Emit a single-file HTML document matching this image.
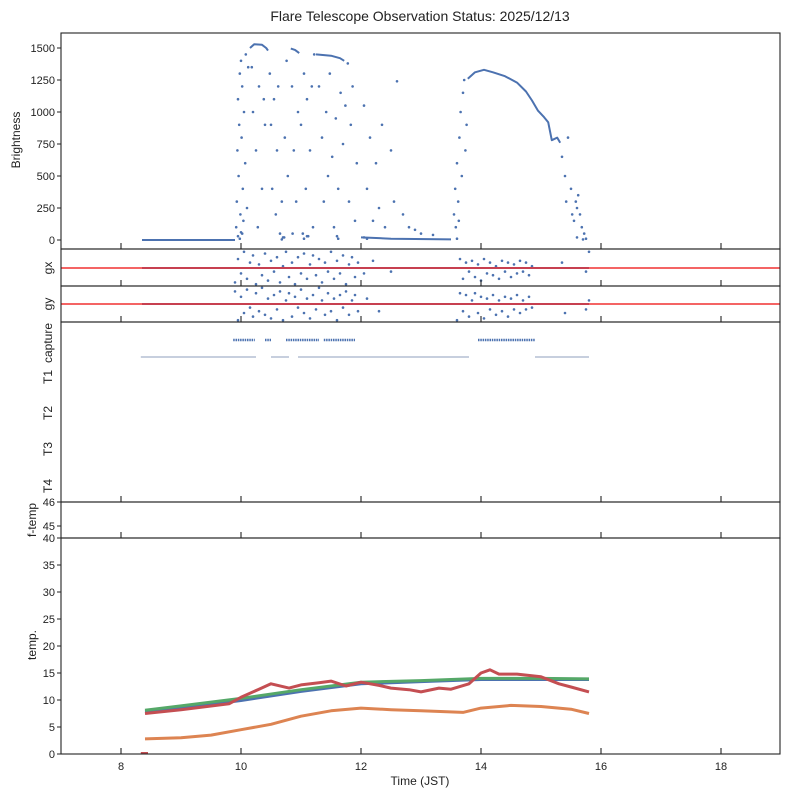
<!DOCTYPE html>
<html><head><meta charset="utf-8"><style>
html,body{margin:0;padding:0;background:#fff}
svg{display:block;font-family:"Liberation Sans","DejaVu Sans",sans-serif}
</style></head><body>
<svg id="c" width="789" height="798" viewBox="0 0 789 798">
<text x="420" y="21" font-size="14" text-anchor="middle" fill="#222">Flare Telescope Observation Status: 2025/12/13</text>
<g id="g"></g>
</svg>
<script>
// ---- data ----
const xTicks=[8,10,12,14,16,18];
const brightTicks=[0,250,500,750,1000,1250,1500];
const brightRuns=[
 [[8.35,0],[9.9,0]],
 [[10.15,1500],[10.22,1530],[10.35,1525],[10.42,1500],[10.45,1480]],
 [[10.83,1495],[10.9,1485],[10.97,1460]],
 [[11.25,1450],[11.5,1440],[11.65,1420],[11.72,1400]],
 [[12.0,20],[12.5,10],[13.5,5]],
 [[13.78,1260],[13.9,1310],[14.05,1330],[14.2,1310],[14.4,1280],[14.6,1230],[14.75,1160],[14.85,1090],[14.95,1010],[15.05,960],[15.12,920],[15.18,780],[15.27,800],[15.32,760]]
];
const brightPts=[[9.92,100],[9.93,300],[9.94,700],[9.95,1100],[9.96,500],[9.97,900],[9.98,1300],[9.99,200],[10.0,1400],[10.01,800],[10.02,1200],[10.03,400],[10.05,1000],[10.07,600],[10.08,1450],[10.1,250],[10.12,1350],[10.02,50],[10.04,150],
[10.48,1300],[10.5,900],[10.52,400],[10.55,1100],[10.58,200],[10.6,700],[10.62,1200],[10.65,50],[10.68,300],[10.7,20],[10.73,800],[10.76,1400],[10.78,500],
[11.0,900],[11.03,50],[11.05,1300],[11.08,400],[11.1,1100],[11.12,30],[11.15,700],[11.18,1200],[11.2,100],[11.22,1450],
[11.3,1200],[11.35,800],[11.38,300],[11.42,1000],[11.45,500],[11.48,1300],[11.52,650],[11.55,100],[11.58,950],[11.6,30],[11.62,400],[11.66,1150],[11.7,750],[11.74,1050],[11.78,1380],[11.8,300],[11.83,900],[11.86,1200],[11.9,150],[11.93,600],
[12.05,1050],[12.1,400],[12.15,800],[12.2,150],[12.25,600],[12.3,250],[12.35,900],[12.4,100],[12.5,700],[12.55,300],[12.6,1240],[12.7,200],[12.8,100],[12.9,80],[13.0,50],[13.2,40],
[13.55,200],[13.57,400],[13.6,600],[13.62,300],[13.64,800],[13.66,1000],[13.68,500],[13.7,1150],[13.72,1250],[13.74,700],[13.76,900],[13.58,100],[13.63,150],
[15.35,650],[15.4,500],[15.42,300],[15.45,800],[15.5,400],[15.52,200],[15.55,150],[15.58,300],[15.6,250],[15.65,200],[15.68,100],[15.72,50],[15.75,10],[15.62,350],
[10.2,1000],[10.25,700],[10.3,1200],[10.35,400],[10.4,900],[10.18,1350],[10.28,100],[10.38,1100],
[10.85,1200],[10.88,700],[10.92,300],[10.95,1000],[10.86,50],
[9.95,30],[9.98,10],[10.0,60],[10.68,5],[10.72,20],[11.05,10],[11.1,30],[11.62,10],[12.05,20],[12.1,10],[13.6,10],[15.6,20],[15.7,5]];
const gxRun=[[8.35,0],[15.8,0]];
const gxPts=[[9.9,-0.8],[9.95,0.5],[10.0,-0.3],[10.05,0.9],[10.1,-0.6],[10.15,0.3],[10.2,0.7],[10.25,-0.9],[10.3,0.2],[10.35,-0.4],[10.4,0.8],[10.45,-0.7],[10.5,0.4],[10.55,-0.2],[10.6,0.6],[10.65,-0.8],[10.7,0.1],[10.75,0.9],[10.8,-0.5],[10.85,0.3],[10.9,-0.9],[10.95,0.6],[11.0,-0.3],[11.05,0.8],[11.1,-0.6],[11.15,0.2],[11.2,0.7],[11.25,-0.4],[11.3,0.5],[11.35,-0.8],[11.4,0.3],[11.45,-0.2],[11.5,0.9],[11.55,-0.6],[11.6,0.4],[11.65,-0.3],[11.7,0.7],[11.75,-0.9],[11.8,0.2],[11.85,0.6],[11.9,-0.5],[11.95,0.3],[12.05,-0.3],[12.2,0.4],[12.5,-0.2],[13.65,0.5],[13.7,-0.6],[13.75,0.3],[13.8,-0.2],[13.85,0.4],[13.9,-0.5],[13.95,0.2],[14.0,-0.7],[14.05,0.5],[14.1,-0.3],[14.15,0.3],[14.2,-0.4],[14.25,0.1],[14.3,-0.6],[14.35,0.4],[14.4,-0.2],[14.45,0.3],[14.5,-0.5],[14.55,0.2],[14.6,-0.3],[14.65,0.4],[14.7,-0.2],[14.75,0.3],[14.8,-0.4],[14.85,0.1],[15.35,0.3],[15.75,-0.2],[15.8,0.9]];
const gyRun=[[8.35,0],[15.8,0]];
const gyPts=[[9.9,0.7],[9.95,-0.9],[10.0,0.4],[10.05,-0.5],[10.1,0.8],[10.15,-0.2],[10.2,-0.7],[10.25,0.6],[10.3,-0.4],[10.35,0.9],[10.4,-0.6],[10.45,0.3],[10.5,-0.8],[10.55,0.5],[10.6,-0.3],[10.65,0.7],[10.7,-0.9],[10.75,0.2],[10.8,0.6],[10.85,-0.7],[10.9,0.4],[10.95,-0.2],[11.0,0.8],[11.05,-0.5],[11.1,0.3],[11.15,-0.8],[11.2,0.5],[11.25,-0.3],[11.3,0.9],[11.35,0.2],[11.4,-0.6],[11.45,0.6],[11.5,-0.4],[11.55,0.3],[11.6,-0.9],[11.65,0.5],[11.7,-0.2],[11.75,0.7],[11.8,-0.6],[11.85,0.2],[11.9,0.5],[11.95,-0.4],[12.1,0.3],[12.3,-0.4],[13.6,-0.9],[13.65,0.6],[13.7,-0.4],[13.75,0.5],[13.8,-0.7],[13.85,0.2],[13.9,0.6],[13.95,-0.5],[14.0,0.4],[14.05,-0.8],[14.1,0.3],[14.15,-0.3],[14.2,0.5],[14.25,-0.6],[14.3,0.2],[14.35,-0.4],[14.4,0.4],[14.45,-0.7],[14.5,0.3],[14.55,-0.3],[14.6,0.5],[14.65,-0.5],[14.7,0.2],[14.75,-0.3],[14.8,0.4],[14.85,-0.2],[15.4,-0.5],[15.75,-0.3],[15.8,0.2]];
const captureDots=[[9.87,10.23],[10.4,10.5],[10.75,11.3],[11.38,11.9],[13.95,14.9]];
const t1Line=[[8.33,10.25],[10.5,10.8],[10.95,13.8],[14.9,15.8]];
const catLabels=["capture","T1","T2","T3","T4"];
const ftempTicks=[45,46];
const tempTicks=[0,5,10,15,20,25,30,35,40];
const tBlue=[[8.4,7.8],[9,8.5],[10,9.9],[11,11.6],[12,13],[13,13.4],[14,13.8],[15,13.8],[15.8,13.8]];
const tGreen=[[8.4,8.1],[9,8.9],[10,10.3],[11,11.9],[12,13.3],[13,13.6],[14,14],[15,14],[15.8,13.9]];
const tRed=[[8.4,7.5],[9,8.2],[9.8,9.3],[10,10.5],[10.3,12],[10.5,13],[10.8,12.2],[11,12.8],[11.3,13.2],[11.5,13.5],[11.75,12.6],[12,13.3],[12.3,12.7],[12.5,12.2],[12.8,11.9],[13,11.5],[13.3,12.2],[13.5,12],[13.8,13],[14,15],[14.15,15.6],[14.3,14.8],[14.6,14.8],[15,14.3],[15.3,13],[15.5,12.4],[15.8,11.5]];
const tOrange=[[8.4,2.8],[9,3],[9.5,3.5],[10,4.5],[10.5,5.5],[11,7],[11.5,8],[12,8.5],[12.5,8.2],[13,8],[13.7,7.7],[14,8.5],[14.5,9],[15,8.8],[15.5,8.3],[15.8,7.5]];

// ---- layout ----
const L=61,R=780;
const X=t=>L+(t-7)*60;
const yB=v=>240-v*0.128;
const yGx=v=>268-v*18, yGy=v=>304-v*18;
const yF=v=>502+(46-v)*24;
const yT=v=>754-v*5.4;
const NS='http://www.w3.org/2000/svg';
const G=document.getElementById('g');
function mk(tag,attrs,name,parent){const e=document.createElementNS(NS,tag);for(const k in attrs)e.setAttribute(k,attrs[k]);


(parent||G).appendChild(e);return e;}
function txt(x,y,s,name,opts){const e=mk('text',Object.assign({x:x,y:y,'font-size':11,fill:'#222'},opts||{}),name);e.textContent=s;return e;}
function poly(pts,fx,fy,stroke,w,name){return mk('polyline',{points:pts.map(p=>fx(p[0]).toFixed(1)+','+fy(p[1]).toFixed(1)).join(' '),fill:'none',stroke:stroke,'stroke-width':w,'stroke-linejoin':'round'},name);}
function dots(pts,fx,fy,col,r,name){pts.forEach(p=>mk('circle',{cx:fx(p[0]).toFixed(1),cy:fy(p[1]).toFixed(1),r:r,fill:col},name));}
const BL='#4c72b0';

const panels=[[33,249],[249,286],[286,322],[322,502],[502,538],[538,754]];
brightRuns.forEach(r=>poly(r,X,yB,BL,2,'brightness-run'));
dots(brightPts,X,yB,BL,1.3,'brightness-point');
poly(gxRun,X,yGx,BL,2,'gx-run');dots(gxPts,X,yGx,BL,1.3,'gx-point');
mk('line',{x1:L,x2:R,y1:yGx(0),y2:yGx(0),stroke:'#f03030','stroke-width':1.6},'gx-reference-line');
poly(gyRun,X,yGy,BL,2,'gy-run');dots(gyPts,X,yGy,BL,1.3,'gy-point');
mk('line',{x1:L,x2:R,y1:yGy(0),y2:yGy(0),stroke:'#f03030','stroke-width':1.6},'gy-reference-line');
captureDots.forEach(s=>mk('line',{x1:X(s[0]),x2:X(s[1]),y1:340,y2:340,stroke:BL,'stroke-width':2.5,'stroke-dasharray':'1.5 0.8'},'capture-segment'));
t1Line.forEach(s=>mk('line',{x1:X(s[0]),x2:X(s[1]),y1:357,y2:357,stroke:'#6a7fa8','stroke-width':0.8},'t1-segment'));
poly(tBlue,X,yT,BL,3,'temp-blue-line');
poly(tGreen,X,yT,'#55a868',3,'temp-green-line');
poly(tOrange,X,yT,'#dd8452',3,'temp-orange-line');
poly(tRed,X,yT,'#c44e52',3,'temp-red-line');
mk('line',{x1:X(8.33),x2:X(8.45),y1:753,y2:753,stroke:'#c44e52','stroke-width':2},'temp-start-mark');

panels.forEach((p,i)=>{
 mk('rect',{x:L,y:p[0],width:R-L,height:p[1]-p[0],fill:'none',stroke:'#222','stroke-width':1.1},'panel-frame');
 xTicks.forEach(t=>mk('line',{x1:X(t),x2:X(t),y1:p[1],y2:p[1]-6,stroke:'#222','stroke-width':1.1},'x-tick'));
});
xTicks.forEach(t=>txt(X(t),770,String(t),'x-tick-label',{'text-anchor':'middle'}));
txt(420,785,'Time (JST)','x-axis-title',{'text-anchor':'middle','font-size':12});
brightTicks.forEach(v=>{mk('line',{x1:L-4,x2:L,y1:yB(v),y2:yB(v),stroke:'#222'},'y-tick');txt(55,yB(v)+4,String(v),'brightness-tick-label',{'text-anchor':'end'});});
ftempTicks.forEach(v=>{mk('line',{x1:L-4,x2:L,y1:yF(v),y2:yF(v),stroke:'#222'},'y-tick');txt(55,yF(v)+4,String(v),'ftemp-tick-label',{'text-anchor':'end'});});
tempTicks.forEach(v=>{mk('line',{x1:L-4,x2:L,y1:yT(v),y2:yT(v),stroke:'#222'},'y-tick');txt(55,yT(v)+4,String(v),'temp-tick-label',{'text-anchor':'end'});});
const catY=[343,377,413,449,486];
catLabels.forEach((s,i)=>txt(52,catY[i],s,'category-label',{'text-anchor':'middle',transform:'rotate(-90 52 '+catY[i]+')','font-size':12}));
[[20,140,'Brightness'],[52,268,'gx'],[52,304,'gy'],[36,520,'f-temp'],[36,645,'temp.']].forEach(a=>
 txt(a[0],a[1],a[2],'y-axis-title',{'text-anchor':'middle',transform:'rotate(-90 '+a[0]+' '+a[1]+')','font-size':12}));
</script>
</body></html>
